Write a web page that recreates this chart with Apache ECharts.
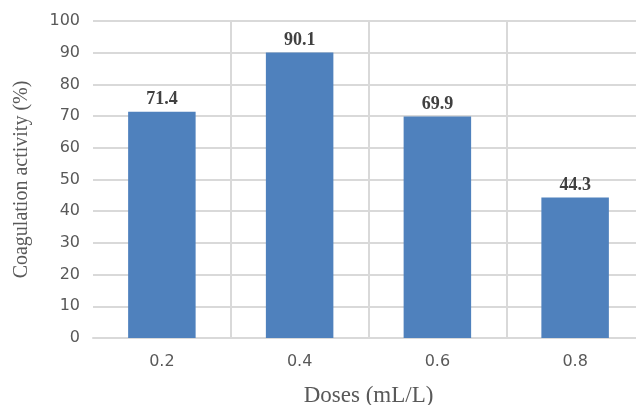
<!DOCTYPE html>
<html><head><meta charset="utf-8">
<script src="https://cdn.jsdelivr.net/npm/echarts@6/dist/echarts.min.js"></script>
<style>html,body{margin:0;padding:0;background:#fff}#c{width:636px;height:405px}</style>
</head><body><div id="c"></div>
<script>
var categories = ['0.2', '0.4', '0.6', '0.8'];
var values = [71.4, 90.1, 69.9, 44.3];
var yTicks = [0, 100, 10];
var chart = echarts.init(document.getElementById('c'), null, {renderer: 'canvas'});
chart.setOption({
  animation: false,
  grid: {left: 93, width: 551, top: 21, height: 317, outerBoundsMode: 'none', containLabel: false},
  xAxis: {
    type: 'category', data: categories,
    name: 'Doses (mL/L)', nameLocation: 'middle', nameGap: 46,
    nameTextStyle: {fontFamily: 'Liberation Serif', fontSize: 23, color: '#595959'},
    axisLine: {lineStyle: {color: '#d9d9d9', width: 2}},
    axisTick: {show: false},
    axisLabel: {fontFamily: 'DejaVu Sans', fontSize: 16, color: '#595959', margin: 16},
    splitLine: {show: true, showMinLine: false, lineStyle: {color: '#d9d9d9', width: 2}}
  },
  yAxis: {
    type: 'value', min: yTicks[0], max: yTicks[1], interval: yTicks[2],
    name: 'Coagulation activity (%)', nameLocation: 'middle', nameGap: 61,
    nameTextStyle: {fontFamily: 'Liberation Serif', fontSize: 20, color: '#595959'},
    axisLine: {show: false}, axisTick: {show: false},
    axisLabel: {fontFamily: 'DejaVu Sans', fontSize: 16, color: '#595959', margin: 13},
    splitLine: {lineStyle: {color: '#d9d9d9', width: 2}}
  },
  series: [{
    type: 'bar', data: values, barWidth: '49%',
    itemStyle: {color: '#4f81bd'},
    label: {show: true, position: 'top', distance: 3, fontFamily: 'Liberation Serif', fontWeight: 'bold', fontSize: 18, color: '#404040'}
  }]
});
</script></body></html>
